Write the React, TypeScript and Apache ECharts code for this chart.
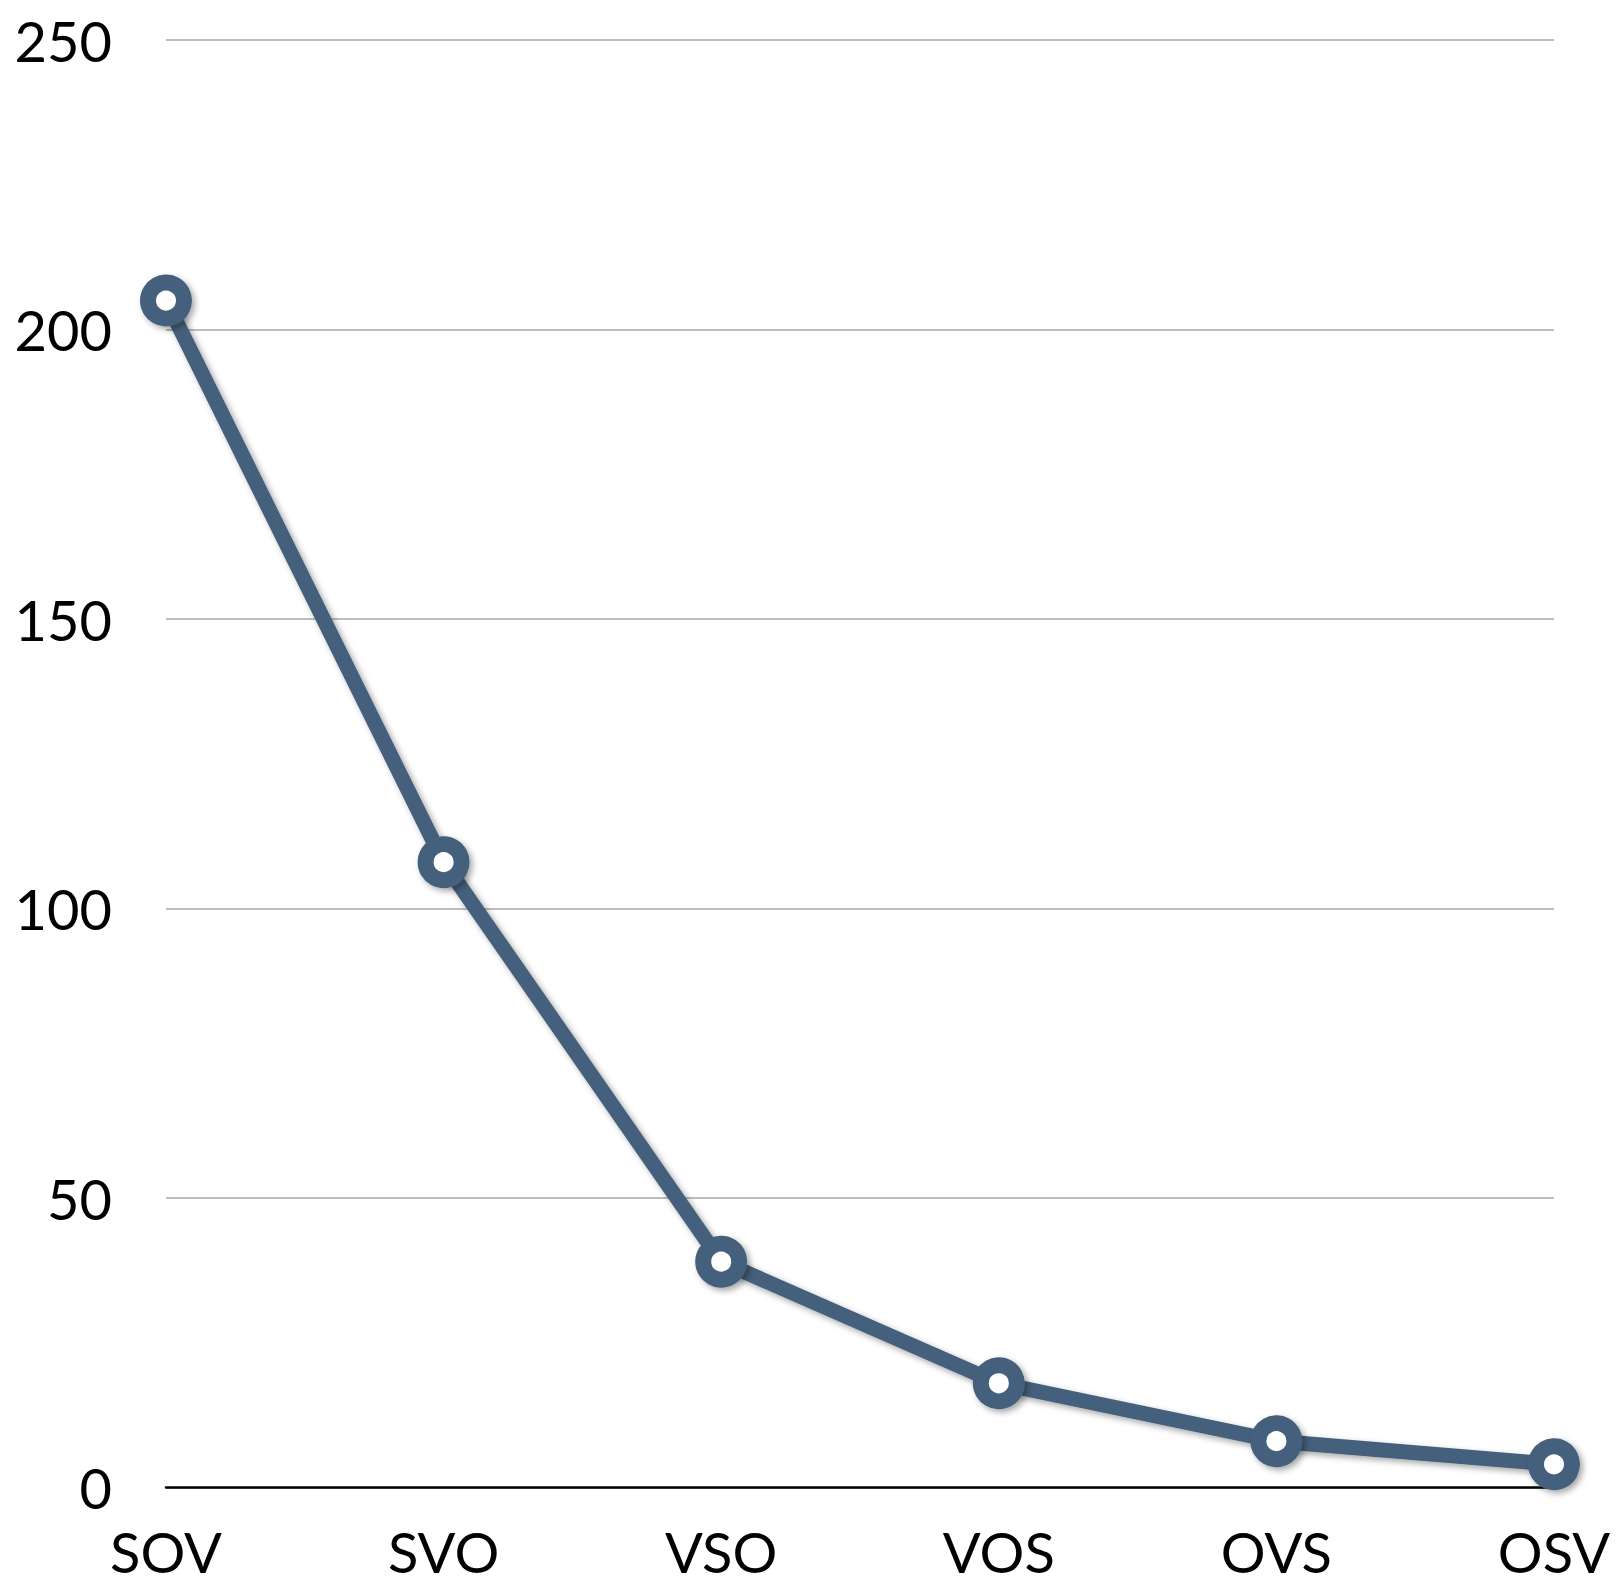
import React, { useEffect, useRef } from "react";
import * as echarts from "echarts";

const categories = ["SOV", "SVO", "VSO", "VOS", "OVS", "OSV"];
const values = [205, 108, 39, 18, 8, 4];
const yTicks = [0, 50, 100, 150, 200, 250];

const LINE = "#44617b";
const FONT = "Lato";

export default function App() {
  const ref = useRef<HTMLDivElement>(null);
  useEffect(() => {
    if (!ref.current) return;
    const chart = echarts.init(ref.current, undefined, { renderer: "svg" });
    chart.setOption({
      animation: false,
      backgroundColor: "#ffffff",
      grid: { left: 166, right: 64, top: 40, bottom: 98.5, containLabel: false },
      xAxis: {
        type: "category",
        data: categories,
        boundaryGap: false,
        axisLine: { show: true, lineStyle: { color: "#000000", width: 2.5 } },
        axisTick: { show: false },
        splitLine: { show: false },
        axisLabel: {
          color: "#000000",
          fontFamily: FONT,
          fontSize: 56,
          lineHeight: 56,
          margin: 36,
        },
      },
      yAxis: {
        type: "value",
        min: yTicks[0],
        max: yTicks[yTicks.length - 1],
        interval: 50,
        axisLine: { show: false },
        axisTick: { show: false },
        splitLine: { show: true, lineStyle: { color: "#bdbdbd", width: 2 } },
        axisLabel: { color: "#000000", fontFamily: FONT, fontSize: 56, margin: 54 },
      },
      series: [
        {
          type: "line",
          data: values,
          symbol: "circle",
          symbolSize: 36,
          showSymbol: true,
          lineStyle: {
            color: LINE,
            width: 15,
            shadowColor: "rgba(0,0,0,0.35)",
            shadowBlur: 6,
            shadowOffsetX: 3,
            shadowOffsetY: 3,
          },
          itemStyle: {
            color: "#ffffff",
            borderColor: LINE,
            borderWidth: 16,
            shadowColor: "rgba(0,0,0,0.35)",
            shadowBlur: 6,
            shadowOffsetX: 3,
            shadowOffsetY: 3,
          },
          z: 3,
        },
      ],
    });
    return () => chart.dispose();
  }, []);
  return (
    <div
      ref={ref}
      style={{ position: "fixed", left: 0, top: 0, width: 1618, height: 1586, background: "#fff" }}
    />
  );
}
